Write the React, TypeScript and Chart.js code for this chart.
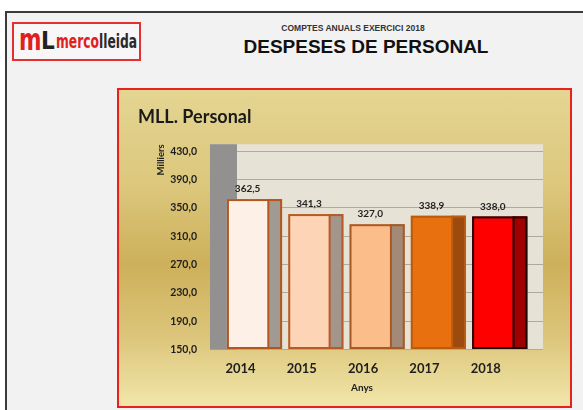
import React, { useEffect, useRef } from "react";
import { Chart, registerables } from "chart.js";

Chart.register(...registerables);

const years = ["2014", "2015", "2016", "2017", "2018"];
const values = [362.5, 341.3, 327.0, 338.9, 338.0];
const yTicks = [150, 190, 230, 270, 310, 350, 390, 430];
const frontColors = ["#fdf0e6", "#fdd4b6", "#fbbd8a", "#e8700e", "#ff0000"];
const sideColors = ["#a19a93", "#a3958b", "#a38a78", "#9c4a0e", "#a00000"];
const borderColors = ["#b5561f", "#b85a26", "#a85a25", "#b85c12", "#1a0505"];

const fmt = (v: number) => v.toFixed(1).replace(".", ",");

const wallPlugin = {
  id: "walls",
  beforeDraw(chart: any) {
    const { ctx, chartArea: a } = chart;
    ctx.save();
    ctx.fillStyle = "#e6e2d6";
    ctx.fillRect(a.left, a.top, a.right - a.left, a.bottom - a.top);
    ctx.restore();
  },
  beforeDatasetsDraw(chart: any) {
    const { ctx, chartArea: a } = chart;
    ctx.save();
    ctx.fillStyle = "#929190";
    ctx.fillRect(a.left, a.top, 27, a.bottom - a.top);
    ctx.restore();
  },
  afterDatasetsDraw(chart: any) {
    const { ctx } = chart;
    const meta = chart.getDatasetMeta(0);
    ctx.save();
    meta.data.forEach((bar: any, i: number) => {
      const { x, y, base, width } = bar.getProps(["x", "y", "base", "width"], true);
      const left = x - width / 2;
      const right = x + width / 2;
      const sideW = width * 0.25;
      ctx.fillStyle = sideColors[i];
      ctx.fillRect(right - sideW, y, sideW, base - y);
      ctx.strokeStyle = borderColors[i];
      ctx.lineWidth = 2;
      ctx.strokeRect(left + 1, y + 1, width - 2, base - y - 2);
      ctx.beginPath();
      ctx.moveTo(right - sideW, y);
      ctx.lineTo(right - sideW, base);
      ctx.stroke();
      ctx.fillStyle = "#222222";
      ctx.font = "bold 10px Lato";
      ctx.textAlign = "center";
      ctx.textBaseline = "bottom";
      ctx.fillText(fmt(values[i]), x - sideW / 2, y - 5);
    });
    ctx.restore();
  },
};

export default function App() {
  const ref = useRef<HTMLCanvasElement>(null);
  useEffect(() => {
    if (!ref.current) return;
    const chart = new Chart(ref.current, {
      type: "bar",
      data: {
        datasets: [
          {
            data: values.map((v, i) => ({ x: i, y: v })),
            backgroundColor: frontColors,
            borderWidth: 0,
            barPercentage: 0.9,
            categoryPercentage: 1,
            base: yTicks[0],
          },
        ],
      },
      plugins: [wallPlugin],
      options: {
        animation: false,
        responsive: false,
        layout: { padding: { left: 19, right: 27, top: 0, bottom: 0 } },
        plugins: {
          legend: { display: false },
          tooltip: { enabled: false },
          title: {
            display: true,
            text: "MLL. Personal",
            align: "start",
            color: "#1a1a1a",
            font: { family: "Lato", weight: "bold", size: 18 },
            padding: { top: 16, bottom: 16.6 },
          },
        },
        scales: {
          x: {
            type: "linear",
            offset: false,
            min: -0.726,
            max: 4.706,
            afterBuildTicks: (s: any) => {
              s.ticks = years.map((_, i) => ({ value: i }));
            },
            ticks: {
              callback: (v: any) => years[v as number],
              color: "#1e1e1e",
              font: { family: "Lato", weight: "bold", size: 13 },
              padding: 4,
              labelOffset: -14,
              maxRotation: 0,
            },
            grid: { display: false },
            border: { display: false },
            afterFit: (s: any) => {
              s.height = 56.5;
            },
          },
          y: {
            min: 150,
            max: 440,
            afterBuildTicks: (s: any) => {
              s.ticks = yTicks.map((v) => ({ value: v }));
            },
            ticks: {
              callback: (v: any) => fmt(Number(v)),
              color: "#1e1e1e",
              font: { family: "Lato", weight: "bold", size: 10.5 },
              padding: 13,
            },
            grid: { color: "#aeaaa0", drawTicks: false },
            border: { display: false },
            title: {
              display: true,
              text: "Milliers",
              align: "end",
              color: "#1e1e1e",
              font: { family: "Lato", weight: "bold", size: 9.5 },
              padding: { top: 17, bottom: 0 },
            },
            afterFit: (s: any) => {
              s.width = 72;
            },
          },
        },
      } as any,
    });
    return () => chart.destroy();
  }, []);

  return (
    <div style={{ position: "fixed", left: 0, top: 0, width: 583, height: 410, overflow: "hidden", background: "#ffffff" }}>
      <div
        style={{
          position: "absolute",
          left: 5,
          top: 11,
          width: 600,
          height: 420,
          border: "2px solid #3a3a3a",
          background: "#f2f2f2",
        }}
      />
      <div
        style={{
          position: "absolute",
          left: 12,
          top: 22,
          width: 125,
          height: 35,
          border: "2px solid #e53030",
          background: "#f8f6f6",
        }}
      >
        <span
          style={{
            position: "absolute",
            left: 5,
            top: 1,
            fontFamily: "'DejaVu Sans Condensed', 'DejaVu Sans', sans-serif",
            fontWeight: "bold",
            fontSize: 30,
            lineHeight: "30px",
            color: "#e02020",
            display: "inline-block",
            transform: "scaleX(0.8)",
            transformOrigin: "left",
          }}
        >
          m
        </span>
        <span
          style={{
            position: "absolute",
            left: 27,
            top: 4,
            fontFamily: "'DejaVu Sans Condensed', 'DejaVu Sans', sans-serif",
            fontWeight: "bold",
            fontSize: 24,
            lineHeight: "26px",
            color: "#222",
          }}
        >
          L
        </span>
        <span
          style={{
            position: "absolute",
            left: 42,
            top: 7,
            fontFamily: "'DejaVu Sans Condensed', 'DejaVu Sans', sans-serif",
            fontWeight: "bold",
            fontSize: 19,
            lineHeight: "20px",
            color: "#e02020",
            display: "inline-block",
            transform: "scaleX(0.72)",
            transformOrigin: "left",
            whiteSpace: "nowrap",
          }}
        >
          merco<span style={{ color: "#2a2a2a" }}>lleida</span>
        </span>
      </div>
      <div
        style={{
          position: "absolute",
          left: 203,
          top: 23,
          width: 300,
          textAlign: "center",
          fontFamily: "'Liberation Sans', Arial, sans-serif",
          fontWeight: "bold",
          fontSize: 8.5,
          color: "#333",
        }}
      >
        COMPTES ANUALS EXERCICI 2018
      </div>
      <div
        style={{
          position: "absolute",
          left: 166,
          top: 36,
          width: 400,
          textAlign: "center",
          fontFamily: "'Liberation Sans', Arial, sans-serif",
          fontWeight: "bold",
          fontSize: 19,
          color: "#111",
        }}
      >
        DESPESES DE PERSONAL
      </div>
      <div
        style={{
          position: "absolute",
          left: 117,
          top: 88,
          width: 451,
          height: 316,
          border: "2px solid #e8211d",
          background:
            "linear-gradient(180deg, #e4d592 0%, #dcc77c 30%, #cdb05a 55%, #dcc57a 78%, #f1e6aa 100%)",
        }}
      >
        <canvas ref={ref} width={451} height={316} style={{ display: "block" }} />
        <div
          style={{
            position: "absolute",
            left: 213,
            top: 291,
            width: 60,
            textAlign: "center",
            fontFamily: "Lato",
            fontWeight: "bold",
            fontSize: 10,
            color: "#1e1e1e",
          }}
        >
          Anys
        </div>
      </div>
    </div>
  );
}
